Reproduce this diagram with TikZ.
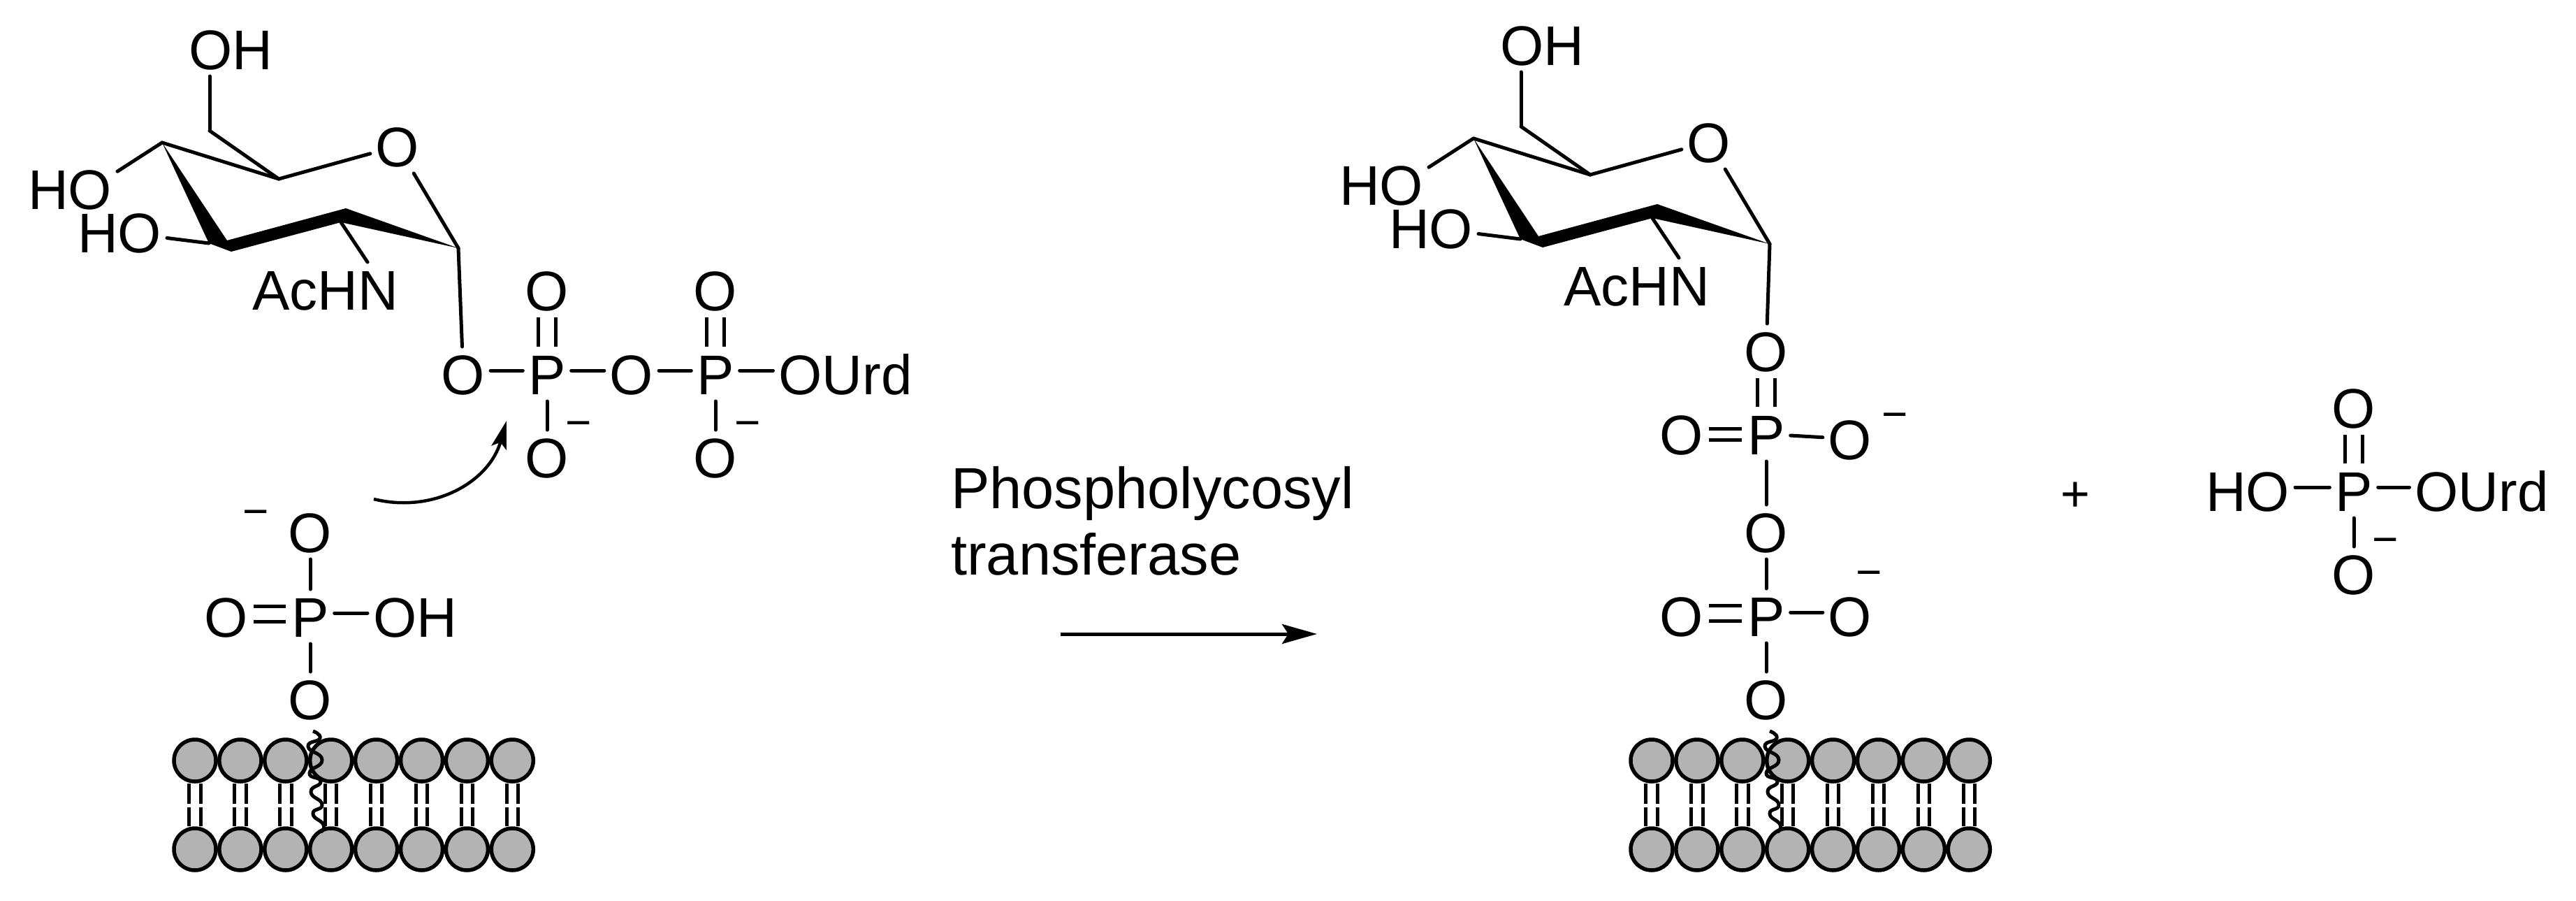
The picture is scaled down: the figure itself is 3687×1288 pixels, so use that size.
\documentclass[tikz,border=0pt]{standalone}
\usepackage{fontspec}
\setmainfont{Liberation Sans}
\usetikzlibrary{arrows.meta}
\tikzset{
	atom/.style={font=\fontsize{80}{80}\selectfont,inner sep=0pt,outer xsep=8pt,outer ysep=10pt,text height=58pt,text depth=0pt},
	charge/.style={font=\fontsize{64}{64}\selectfont,inner sep=0pt,yshift=-10pt},
	bond/.style={line width=5pt,line cap=round},
	hbond/.style={bond,transform canvas={yshift=5pt}},
	dblbond/.style={line width=5pt,double,double distance=#1},
	head/.style={circle,draw,fill=headgray,line width=5.5pt,minimum size=60pt,inner sep=0pt},
	tail/.style={line width=5pt,double,double distance=11.5pt},
	wave/.style={line width=5pt}
}
\definecolor{headgray}{HTML}{B3B3B3}
% sugar ring, drawn at the coordinates of the left molecule
\newcommand{\sugarunit}{
	\node[atom] (OHtop) at (330,70) {OH};
	\node[atom] (HOup) at (100,270) {HO};
	\node[atom] (HOlow) at (171,332) {HO};
	\node[atom] (AcHN) at (466,414) {AcHN};
	\node[atom] (Oring) at (569,209) {O};
	\coordinate (C1) at (656,355);
	\coordinate (C2) at (488,318);
	\coordinate (C3) at (299,348);
	\coordinate (C4) at (232,204);
	\coordinate (C5) at (399,256);
	\coordinate (C6) at (300,187);
	%
	\fill (C4) -- (325,344) -- (495,298) -- (C1) -- (C2) -- (331,360) -- (C3) -- cycle;
	\path[bond]
	(C4) edge (C5)
	(C5) edge (Oring)
	(Oring) edge (C1)
	(C5) edge (C6)
	(C6) edge (C6 |- OHtop.south)
	(C4) edge (HOup.20)
	(C3) edge (HOlow)
	(C2) edge (AcHN.33);
}
% membrane with its anchor, drawn at the coordinates of the left molecule
\newcommand{\lipidunit}{
	\foreach \i in {1,...,8} {
		\pgfmathsetmacro{\x}{279+64.9*(\i-1)}
		\node[head] (top\i) at (\x,1088) {};
		\node[head] (bot\i) at (\x,1215) {};
		\coordinate (gap\i) at (\x,1152);
		\draw[tail,shorten >=2.5pt] (top\i) -- (gap\i);
		\draw[tail,shorten >=2.5pt] (bot\i) -- (gap\i);
	}
	\draw[wave] plot[smooth,tension=1] coordinates {(448,1046) (458,1056) (441,1068) (461,1087) (443,1106) (459,1118) (445,1133) (461,1151) (448,1164) (463,1180) (459,1190)};
}
\begin{document}
\begin{tikzpicture}[x=1pt,y=-1pt]
	\useasboundingbox (0,0) rectangle (3687,1288);
	%
	\begin{scope}[name prefix=a-]
	\sugarunit
	\lipidunit
	\end{scope}
	\begin{scope}[name prefix=b-,shift={(1877,-6)}]
	\sugarunit
	\end{scope}
	\begin{scope}[name prefix=b-,shift={(2085,0)}]
	\lipidunit
	\end{scope}
	%
	% donor phosphates
	\node[atom] (Oa) at (663,535) {O};
	\node[atom] (Pa) at (783,535) {P};
	\node[atom] (Ob) at (904,535) {O};
	\node[atom] (Pb) at (1024,535) {P};
	\node[atom] (OUrd) at (1210,535) {OUrd};
	\node[atom] (Oc) at (783,415) {O};
	\node[atom] (Od) at (1024,415) {O};
	\node[atom] (Oe) at (783,654) {O};
	\node[atom] (Of) at (1024,654) {O};
	\node[charge] (mOe) at (828,605) {−};
	\node[charge] (mOf) at (1070,605) {−};
	%
	\path[bond]
	(a-C1) edge (Oa)
	(Pa) edge (Oe)
	(Pb) edge (Of);
	\path[hbond]
	(Oa) edge (Pa)
	(Pa) edge (Ob)
	(Ob) edge (Pb)
	(Pb) edge (OUrd);
	\draw[dblbond=20pt] (Pa) -- (Oc);
	\draw[dblbond=20pt] (Pb) -- (Od);
	%
	% membrane phosphate
	\node[atom] (Og) at (444,761) {O};
	\node[atom] (Pc) at (444,882) {P};
	\node[atom] (Oh) at (324,882) {O};
	\node[atom] (OHc) at (594,882) {OH};
	\node[atom] (Oi) at (444,1000) {O};
	\node[charge] (mOg) at (366,732) {−};
	%
	\path[bond]
	(Og) edge (Pc)
	(Pc) edge (Oi);
	\draw[hbond] (Pc) -- (OHc);
	\draw[dblbond=17pt,transform canvas={yshift=4pt}] (Pc) -- (Oh);
	%
	% attack arrow
	\coordinate (attackS) at (535,714);
	\coordinate (attackT) at (725,602);
	\draw[line width=4.5pt,-{Stealth[length=40pt,width=22pt,inset=8pt]}] (attackS) .. controls (620,735) and (700,690) .. (attackT);
	%
	% reaction arrow
	\node[font=\fontsize{83}{95}\selectfont,align=left,inner sep=0pt,anchor=west] (enzyme) at (1361,745) {Phospholycosyl\\transferase};
	\coordinate (rxnS) at (1518,907);
	\coordinate (rxnT) at (1885,907);
	\draw[line width=5pt,-{Stealth[length=50pt,width=28pt,inset=9pt]}] (rxnS) -- (rxnT);
	%
	% product chain
	\node[atom] (Oj) at (2528,502) {O};
	\node[atom] (Pd) at (2528,621) {P};
	\node[atom] (Ok) at (2407,621) {O};
	\node[atom] (Ol) at (2648,628) {O};
	\node[atom] (Om) at (2528,761) {O};
	\node[atom] (Pe) at (2528,881) {P};
	\node[atom] (On) at (2407,881) {O};
	\node[atom] (Oo) at (2648,881) {O};
	\node[atom] (Op) at (2528,1000) {O};
	\node[charge] (mOl) at (2712,593) {−};
	\node[charge] (mOo) at (2675,819) {−};
	%
	\path[bond]
	(b-C1) edge (Oj)
	(Pd) edge (Ol)
	(Pd) edge (Om)
	(Om) edge (Pe)
	(Pe) edge (Op);
	\draw[hbond] (Pe) -- (Oo);
	\draw[dblbond=20pt] (Oj) -- (Pd);
	\draw[dblbond=11pt] (Pd) -- (Ok);
	\draw[dblbond=17pt,transform canvas={yshift=4pt}] (Pe) -- (On);
	%
	\node[font=\fontsize{72}{72}\selectfont,inner sep=0pt,yshift=-8pt] (plus) at (2970,703) {+};
	%
	% uridine phosphate
	\node[atom] (HOq) at (3217,702) {HO};
	\node[atom] (Pf) at (3369,702) {P};
	\node[atom] (OUrdb) at (3552,702) {OUrd};
	\node[atom] (Or) at (3369,583) {O};
	\node[atom] (Os) at (3369,821) {O};
	\node[charge] (mOs) at (3414,772) {−};
	%
	\path[bond] (Pf) edge (Os);
	\path[hbond]
	(HOq) edge (Pf)
	(Pf) edge (OUrdb);
	\draw[dblbond=20pt] (Pf) -- (Or);
\end{tikzpicture}
\end{document}
